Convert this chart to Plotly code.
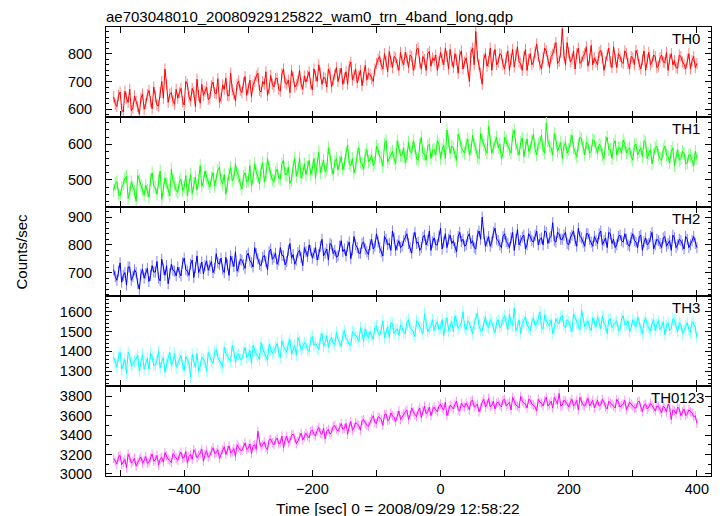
import plotly.graph_objects as go
from plotly.subplots import make_subplots

# Light-curve bins (sec, relative to 2008/09/29 12:58:22).
# "A" values sit at -510, -505, ... ; "B" values sit half a bin later (-507.5, ...).
T0, DT = -510, 5

TH0_A = [645, 610, 662, 590, 640, 672, 605, 628, 582, 655,
         620, 668, 602, 645, 612, 700, 745, 625, 660, 618,
         640, 675, 615, 690, 630, 662, 708, 622, 650, 680,
         640, 698, 655, 625, 688, 712, 648, 670, 630, 702,
         660, 718, 675, 645, 700, 730, 662, 690, 650, 722,
         680, 712, 665, 745, 690, 660, 715, 688, 740, 672,
         698, 735, 670, 720, 760, 690, 712, 745, 680, 725,
         700, 748, 712, 690, 770, 722, 695, 740, 715, 705,
         725, 700, 765, 790, 745, 772, 808, 750, 785, 740,
         775, 805, 750, 790, 760, 820, 745, 778, 800, 755,
         775, 740, 805, 760, 790, 815, 750, 778, 795, 745,
         785, 700, 820, 880, 760, 690, 800, 772, 740, 815,
         770, 795, 745, 810, 780, 752, 825, 765, 790, 740,
         800, 770, 835, 760, 785, 810, 750, 798, 840, 772,
         890, 760, 805, 780, 745, 820, 770, 800, 755, 830,
         785, 760, 812, 740, 795, 770, 825, 750, 790, 765,
         800, 745, 785, 812, 760, 778, 740, 805, 770, 790,
         755, 795, 768, 740, 800, 775, 748, 790, 762, 780,
         745, 790, 765]
TH0_B = [618, 650, 600, 665, 625, 595, 648, 610, 640, 600,
         652, 628, 680, 615, 660, 640, 690, 655, 630, 672,
         660, 628, 700, 645, 675, 610, 650, 690, 665, 635,
         685, 660, 710, 640, 672, 650, 730, 655, 690, 668,
         695, 650, 705, 688, 720, 668, 700, 735, 675, 690,
         710, 672, 728, 695, 705, 740, 680, 702, 690, 720,
         720, 690, 745, 700, 730, 715, 680, 730, 705, 750,
         728, 690, 735, 755, 705, 745, 720, 685, 758, 730,
         710, 745, 780, 760, 800, 735, 770, 790, 760, 805,
         760, 785, 795, 740, 815, 770, 790, 740, 808, 785,
         795, 770, 780, 820, 745, 775, 800, 730, 810, 770,
         745, 805, 760, 790, 730, 780, 755, 820, 790, 760,
         800, 760, 785, 740, 815, 795, 770, 740, 815, 780,
         760, 805, 790, 745, 820, 775, 790, 820, 765, 805,
         795, 840, 770, 810, 800, 765, 790, 825, 780, 760,
         770, 805, 785, 770, 820, 750, 780, 800, 770, 810,
         765, 790, 760, 795, 745, 810, 780, 760, 795, 750,
         785, 770, 805, 780, 760, 750, 795, 770, 745, 800,
         775, 750]

TH1_A = [470, 495, 455, 488, 510, 462, 480, 440, 500, 472,
         485, 452, 520, 478, 498, 445, 505, 470, 530, 488,
         465, 502, 480, 455, 515, 490, 472, 540, 495, 508,
         480, 520, 502, 535, 488, 460, 515, 498, 545, 510,
         475, 520, 498, 482, 545, 510, 530, 495, 560, 518,
         495, 530, 502, 555, 515, 490, 538, 510, 562, 520,
         515, 555, 532, 505, 578, 540, 522, 590, 535, 550,
         528, 565, 545, 598, 540, 520, 572, 550, 530, 585,
         555, 540, 595, 565, 538, 610, 560, 580, 545, 590,
         570, 548, 605, 575, 590, 555, 620, 572, 595, 560,
         585, 610, 560, 598, 640, 575, 590, 555, 615, 580,
         600, 570, 625, 590, 560, 612, 585, 650, 575, 605,
         590, 560, 620, 595, 575, 640, 585, 605, 565, 615,
         590, 628, 570, 605, 585, 660, 595, 570, 612, 590,
         560, 605, 585, 625, 575, 598, 615, 570, 600, 580,
         610, 575, 595, 560, 620, 585, 600, 570, 590, 612,
         575, 590, 555, 600, 580, 565, 605, 575, 545, 590,
         570, 555, 595, 565, 580, 540, 585, 560, 575, 548,
         570, 540, 560]
TH1_B = [490, 460, 478, 505, 448, 495, 468, 512, 485, 458,
         470, 500, 482, 460, 525, 475, 490, 455, 498, 470,
         495, 470, 512, 485, 462, 508, 498, 482, 525, 490,
         505, 482, 528, 500, 515, 490, 535, 505, 520, 488,
         510, 495, 540, 505, 520, 488, 548, 512, 535, 500,
         520, 505, 545, 515, 535, 500, 560, 525, 505, 545,
         535, 515, 560, 545, 520, 555, 530, 570, 515, 560,
         550, 528, 575, 545, 560, 535, 590, 545, 570, 552,
         570, 548, 585, 560, 600, 550, 575, 560, 610, 568,
         590, 565, 580, 610, 560, 598, 575, 555, 600, 582,
         570, 600, 585, 560, 610, 595, 570, 628, 590, 575,
         615, 585, 600, 565, 630, 598, 575, 610, 590, 620,
         600, 575, 610, 585, 625, 600, 570, 618, 592, 580,
         610, 585, 600, 625, 575, 610, 590, 630, 580, 605,
         595, 575, 610, 590, 565, 620, 590, 605, 575, 612,
         590, 600, 570, 605, 585, 560, 610, 590, 575, 600,
         585, 565, 598, 570, 590, 610, 560, 585, 570, 595,
         560, 585, 570, 548, 590, 565, 555, 580, 545, 570,
         555, 580]

TH2_A = [710, 672, 735, 690, 655, 720, 685, 700, 640, 712,
         695, 668, 725, 702, 680, 748, 690, 660, 730, 705,
         720, 688, 752, 705, 730, 682, 760, 715, 695, 742,
         725, 700, 768, 730, 712, 755, 690, 740, 775, 720,
         745, 715, 770, 735, 790, 750, 725, 762, 710, 785,
         755, 730, 790, 760, 740, 805, 765, 745, 780, 725,
         775, 800, 752, 790, 765, 820, 770, 745, 800, 780,
         760, 815, 785, 795, 750, 830, 790, 770, 810, 775,
         800, 785, 840, 790, 760, 820, 805, 850, 780, 815,
         795, 830, 805, 770, 845, 810, 790, 835, 815, 780,
         825, 800, 860, 810, 790, 835, 815, 775, 845, 820,
         800, 840, 815, 785, 850, 900, 795, 830, 810, 860,
         815, 790, 840, 805, 825, 780, 855, 815, 835, 800,
         830, 810, 850, 820, 800, 845, 825, 880, 810, 840,
         820, 845, 800, 835, 815, 860, 825, 795, 840, 810,
         830, 805, 850, 815, 790, 840, 820, 800, 835, 810,
         820, 795, 840, 810, 830, 780, 825, 805, 845, 800,
         815, 790, 830, 805, 780, 825, 800, 815, 785, 820,
         800, 830, 790]
TH2_B = [685, 705, 665, 700, 720, 672, 710, 660, 695, 680,
         715, 690, 702, 740, 670, 712, 725, 695, 708, 688,
         700, 735, 710, 690, 745, 718, 700, 738, 725, 708,
         740, 715, 735, 752, 700, 728, 760, 722, 705, 748,
         728, 760, 742, 720, 768, 730, 755, 740, 775, 748,
         770, 745, 762, 728, 780, 752, 730, 772, 755, 790,
         758, 780, 770, 745, 795, 760, 785, 805, 768, 755,
         795, 775, 760, 810, 782, 800, 770, 805, 785, 765,
         820, 795, 810, 775, 830, 800, 780, 825, 800, 790,
         815, 840, 790, 825, 805, 780, 828, 800, 850, 810,
         800, 830, 785, 840, 820, 805, 790, 830, 812, 795,
         830, 805, 790, 835, 820, 840, 812, 795, 845, 820,
         800, 830, 812, 790, 845, 820, 800, 828, 785, 840,
         815, 835, 800, 825, 850, 805, 830, 815, 845, 820,
         835, 805, 825, 850, 795, 830, 810, 840, 820, 795,
         815, 840, 800, 825, 845, 805, 790, 830, 815, 840,
         800, 825, 815, 790, 835, 810, 800, 830, 785, 820,
         805, 825, 795, 815, 835, 790, 820, 800, 830, 790,
         815, 805]

TH3_A = [1370, 1320, 1395, 1340, 1290, 1380, 1335, 1360, 1300, 1385,
         1345, 1310, 1375, 1330, 1400, 1350, 1295, 1365, 1330, 1390,
         1340, 1380, 1305, 1355, 1270, 1345, 1390, 1325, 1360, 1300,
         1375, 1340, 1410, 1355, 1320, 1390, 1365, 1430, 1345, 1385,
         1360, 1420, 1380, 1340, 1405, 1375, 1445, 1390, 1355, 1415,
         1400, 1440, 1370, 1425, 1395, 1460, 1410, 1380, 1450, 1420,
         1435, 1400, 1475, 1440, 1410, 1490, 1445, 1420, 1470, 1435,
         1460, 1425, 1505, 1455, 1430, 1490, 1470, 1520, 1450, 1485,
         1500, 1460, 1530, 1480, 1555, 1495, 1470, 1540, 1505, 1480,
         1520, 1490, 1560, 1510, 1475, 1545, 1515, 1590, 1500, 1530,
         1505, 1550, 1520, 1480, 1570, 1530, 1500, 1555, 1525, 1600,
         1510, 1545, 1490, 1565, 1530, 1505, 1575, 1520, 1550, 1495,
         1560, 1530, 1580, 1510, 1545, 1620, 1525, 1490, 1555, 1535,
         1505, 1570, 1540, 1600, 1515, 1555, 1530, 1490, 1565, 1540,
         1580, 1520, 1550, 1500, 1570, 1535, 1610, 1525, 1555, 1505,
         1545, 1575, 1515, 1540, 1490, 1565, 1530, 1555, 1510, 1580,
         1535, 1500, 1560, 1525, 1545, 1490, 1570, 1520, 1540, 1505,
         1555, 1525, 1485, 1545, 1515, 1560, 1500, 1535, 1510, 1545,
         1495, 1540, 1470]
TH3_B = [1340, 1375, 1310, 1360, 1395, 1325, 1350, 1380, 1335, 1310,
         1365, 1390, 1330, 1355, 1315, 1370, 1340, 1395, 1350, 1320,
         1360, 1330, 1375, 1340, 1385, 1320, 1300, 1370, 1345, 1395,
         1350, 1395, 1370, 1340, 1420, 1375, 1350, 1400, 1385, 1360,
         1395, 1370, 1405, 1430, 1385, 1360, 1410, 1375, 1435, 1390,
         1420, 1395, 1455, 1410, 1440, 1385, 1430, 1470, 1405, 1445,
         1410, 1460, 1430, 1420, 1465, 1425, 1480, 1455, 1440, 1495,
         1445, 1480, 1465, 1435, 1500, 1475, 1450, 1490, 1515, 1470,
         1480, 1520, 1495, 1510, 1470, 1525, 1545, 1490, 1515, 1535,
         1495, 1545, 1520, 1500, 1555, 1525, 1490, 1540, 1515, 1560,
         1535, 1510, 1560, 1540, 1505, 1550, 1580, 1515, 1545, 1525,
         1555, 1520, 1540, 1595, 1505, 1550, 1530, 1560, 1515, 1545,
         1520, 1565, 1545, 1590, 1530, 1505, 1560, 1540, 1575, 1520,
         1550, 1530, 1565, 1520, 1585, 1540, 1560, 1515, 1545, 1575,
         1530, 1560, 1525, 1590, 1545, 1510, 1565, 1540, 1520, 1570,
         1525, 1550, 1580, 1530, 1560, 1520, 1545, 1505, 1565, 1535,
         1555, 1520, 1540, 1575, 1510, 1550, 1530, 1500, 1560, 1535,
         1510, 1550, 1530, 1505, 1565, 1525, 1545, 1490, 1530, 1510,
         1550, 1520]

TH0123_A = [3160, 3100, 3190, 3120, 3060, 3170, 3130, 3080, 3150, 3110,
            3180, 3120, 3205, 3145, 3090, 3170, 3220, 3150, 3115, 3190,
            3140, 3225, 3170, 3110, 3200, 3250, 3165, 3215, 3130, 3240,
            3190, 3270, 3220, 3160, 3250, 3200, 3290, 3230, 3180, 3275,
            3240, 3320, 3265, 3210, 3300, 3440, 3280, 3330, 3250, 3360,
            3300, 3370, 3320, 3270, 3390, 3340, 3410, 3310, 3380, 3350,
            3420, 3370, 3450, 3390, 3480, 3410, 3360, 3460, 3430, 3500,
            3440, 3520, 3470, 3410, 3540, 3480, 3510, 3450, 3560, 3500,
            3540, 3600, 3520, 3580, 3500, 3620, 3560, 3600, 3540, 3650,
            3590, 3640, 3560, 3680, 3610, 3650, 3580, 3700, 3640, 3600,
            3690, 3640, 3720, 3660, 3600, 3710, 3670, 3750, 3650, 3700,
            3730, 3660, 3760, 3700, 3640, 3740, 3690, 3780, 3710, 3670,
            3740, 3690, 3770, 3720, 3660, 3750, 3700, 3800, 3730, 3680,
            3760, 3710, 3650, 3740, 3700, 3790, 3720, 3680, 3760, 3830,
            3710, 3750, 3690, 3770, 3720, 3660, 3750, 3700, 3780, 3730,
            3680, 3760, 3710, 3740, 3670, 3730, 3700, 3770, 3690, 3720,
            3660, 3740, 3700, 3680, 3750, 3640, 3720, 3690, 3710, 3650,
            3700, 3630, 3680, 3720, 3560, 3650, 3690, 3600, 3670, 3620,
            3640, 3590, 3520]
TH0123_B = [3130, 3180, 3095, 3150, 3205, 3110, 3160, 3120, 3175, 3140,
            3110, 3165, 3130, 3190, 3155, 3120, 3185, 3140, 3210, 3160,
            3195, 3160, 3230, 3180, 3150, 3220, 3190, 3255, 3200, 3170,
            3235, 3210, 3250, 3200, 3280, 3240, 3215, 3260, 3300, 3245,
            3280, 3250, 3310, 3290, 3255, 3340, 3300, 3270, 3350, 3320,
            3345, 3310, 3390, 3350, 3320, 3400, 3370, 3340, 3420, 3390,
            3390, 3440, 3410, 3450, 3420, 3470, 3440, 3410, 3490, 3460,
            3480, 3460, 3520, 3490, 3450, 3530, 3500, 3550, 3520, 3490,
            3570, 3530, 3590, 3560, 3610, 3550, 3630, 3580, 3600, 3560,
            3620, 3660, 3610, 3640, 3590, 3680, 3650, 3620, 3690, 3660,
            3660, 3700, 3680, 3740, 3650, 3690, 3720, 3660, 3730, 3690,
            3700, 3750, 3690, 3720, 3680, 3770, 3720, 3690, 3750, 3730,
            3710, 3760, 3700, 3740, 3790, 3710, 3680, 3750, 3720, 3770,
            3720, 3690, 3770, 3730, 3760, 3700, 3750, 3790, 3720, 3700,
            3760, 3720, 3740, 3700, 3760, 3790, 3710, 3740, 3700, 3760,
            3730, 3700, 3770, 3690, 3750, 3720, 3680, 3740, 3710, 3760,
            3700, 3720, 3680, 3740, 3690, 3710, 3670, 3730, 3680, 3700,
            3660, 3700, 3640, 3690, 3660, 3620, 3670, 3640, 3600, 3660,
            3630, 3600]

SERIES = [("TH0", TH0_A, TH0_B), ("TH1", TH1_A, TH1_B), ("TH2", TH2_A, TH2_B),
          ("TH3", TH3_A, TH3_B), ("TH0123", TH0123_A, TH0123_B)]
ERRS = [20, 18, 20, 30, 48]
LINE_COLORS = ["#ff0000", "#00ff00", "#0000ff", "#00ffff", "#ff00ff"]
ERR_COLORS = ["#ff8080", "#80ff80", "#8080ff", "#90ffff", "#ff90ff"]
Y_RANGES = [[573, 896], [425, 677], [614, 938], [1224, 1678], [2978, 3905]]
Y_TICKS = [[600, 700, 800], [500, 600], [700, 800, 900],
           [1300, 1400, 1500, 1600], [3000, 3200, 3400, 3600, 3800]]
Y_MINOR = [20, 20, 20, 20, 100]
X_RANGE = [-522, 422]
X_TICKVALS = [-500, -400, -300, -200, -100, 0, 100, 200, 300, 400]
X_TICKTEXT = ["", "\u2212400", "", "\u2212200", "", "0", "", "200", "", "400"]
TITLE = "ae703048010_20080929125822_wam0_trn_4band_long.qdp"
XTITLE = "Time [sec] 0 = 2008/09/29 12:58:22"
YTITLE = "Counts/sec"

FONT = "Liberation Sans, Arial, Helvetica, sans-serif"

# the page body has an 8 px margin, so the figure is sized/offset to compensate
W, H = 716, 508
ML, MR, MT, MB = 98, 13, 19, 40
PW = W - ML - MR
LABEL_RIGHT = [596, 596, 596, 596, 600]   # px from plot-area left edge

fig = make_subplots(rows=5, cols=1, shared_xaxes=True, vertical_spacing=0)

for k, (name, va, vb) in enumerate(SERIES):
    t, v = [], []
    for i in range(len(va)):
        t.append(T0 + DT * i)
        v.append(va[i])
        if i < len(vb):
            t.append(T0 + DT * i + DT / 2)
            v.append(vb[i])
    fig.add_trace(go.Scatter(
        x=t, y=v, mode="lines", name=name,
        line=dict(color=LINE_COLORS[k], width=1),
        error_y=dict(type="constant", value=ERRS[k], color=ERR_COLORS[k],
                     thickness=1, width=0),
        showlegend=False), row=k + 1, col=1)
    fig.update_yaxes(range=Y_RANGES[k], tickvals=Y_TICKS[k], row=k + 1, col=1,
                     minor=dict(dtick=Y_MINOR[k], tick0=0, ticks="inside",
                                ticklen=3, tickcolor="black", tickwidth=1))
    fig.update_xaxes(range=X_RANGE, tickvals=X_TICKVALS, ticktext=X_TICKTEXT,
                     row=k + 1, col=1)

fig.update_xaxes(showline=True, linecolor="black", linewidth=1, mirror="ticks",
                 ticks="inside", ticklen=6, tickcolor="black", showgrid=False,
                 zeroline=False, automargin=False,
                 tickfont=dict(family=FONT, size=14.5, color="black"))
fig.update_yaxes(showline=True, linecolor="black", linewidth=1, mirror="ticks",
                 ticks="inside", ticklen=6, tickcolor="black", showgrid=False,
                 zeroline=False, automargin=False, ticklabelstandoff=10,
                 tickfont=dict(family=FONT, size=14.5, color="black"))

annotations = []
for k, (name, _, _) in enumerate(SERIES):
    yaxis = fig.layout["yaxis" if k == 0 else "yaxis%d" % (k + 1)]
    top = yaxis.domain[1]
    annotations.append(dict(text=name, x=LABEL_RIGHT[k] / PW, y=top, xref="paper",
                            yref="paper", xanchor="right", yanchor="top",
                            showarrow=False, yshift=-1,
                            font=dict(family=FONT, size=15, color="black")))
annotations.append(dict(text=YTITLE, x=-(ML - 13) / PW, y=0.5, xref="paper",
                        yref="paper", textangle=-90, showarrow=False, xanchor="center",
                        yanchor="middle", font=dict(family=FONT, size=15, color="black")))
annotations.append(dict(text=XTITLE, x=292 / PW, y=0, xref="paper", yref="paper",
                        xanchor="center", yanchor="top", yshift=-22, showarrow=False,
                        font=dict(family=FONT, size=15.5, color="black")))

fig.update_layout(
    width=W, height=H,
    margin=dict(l=ML, r=MR, t=MT, b=MB),
    paper_bgcolor="white", plot_bgcolor="white",
    title=dict(text=TITLE, x=ML / W, xanchor="left", y=1 - 9 / H,
               yanchor="middle", font=dict(family=FONT, size=15, color="black")),
    annotations=annotations,
)

fig.write_html("out.html")
